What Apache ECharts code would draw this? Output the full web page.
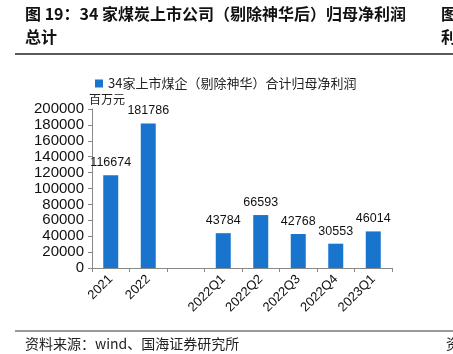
<!DOCTYPE html>
<html>
<head>
<meta charset="utf-8">
<script src="https://cdn.jsdelivr.net/npm/echarts@6/dist/echarts.min.js"></script>
<style>
  html, body { margin: 0; padding: 0; background: #fff; }
  #chart { width: 453px; height: 354px; }
</style>
</head>
<body>
<div id="chart"></div>
<script>
// 类别与数值（2022 与 2022Q1 之间留一个空位）
const categories = ["2021", "2022", "", "2022Q1", "2022Q2", "2022Q3", "2022Q4", "2023Q1"];
const profitValues = [116674, 181786, "-", 43784, 66593, 42768, 30553, 46014];
const yTicks = [0, 20000, 40000, 60000, 80000, 100000, 120000, 140000, 160000, 180000, 200000];

const seriesName = "34家上市煤企（剔除神华）合计归母净利润";
const cjk = '"Noto Sans CJK SC", sans-serif';
const num = '"Liberation Sans", Arial, sans-serif';

const myChart = echarts.init(document.getElementById("chart"));

const option = {
  animation: false,
  backgroundColor: "#fff",
  grid: { left: 92, right: 61, top: 109, bottom: 86 },
  legend: {
    left: 90,
    top: 72,
    icon: "rect",
    itemWidth: 8,
    itemHeight: 8,
    itemGap: 4,
    textStyle: { fontFamily: cjk, fontSize: 13, color: "#222" },
    data: [seriesName]
  },
  graphic: [
    // 标题
    { type: "text", left: 25, top: 6, style: { text: "图 19：34 家煤炭上市公司（剔除神华后）归母净利润", fontFamily: cjk, fontWeight: "bold", fontSize: 16, fill: "#111" } },
    { type: "text", left: 25, top: 29, style: { text: "总计", fontFamily: cjk, fontWeight: "bold", fontSize: 16, fill: "#111" } },
    { type: "text", left: 441, top: 6, style: { text: "图", fontFamily: cjk, fontWeight: "bold", fontSize: 16, fill: "#111" } },
    { type: "text", left: 441, top: 29, style: { text: "利", fontFamily: cjk, fontWeight: "bold", fontSize: 16, fill: "#111" } },
    { type: "line", shape: { x1: 15, y1: 54, x2: 453, y2: 54 }, style: { stroke: "#222", lineWidth: 1.5 } },
    // 单位
    { type: "text", left: 89, top: 93, style: { text: "百万元", fontFamily: cjk, fontSize: 12, fill: "#222" } },
    // 资料来源
    { type: "line", shape: { x1: 15, y1: 331, x2: 453, y2: 331 }, style: { stroke: "#777", lineWidth: 1.5 } },
    { type: "text", left: 25, top: 337, style: { text: "资料来源：wind、国海证券研究所", fontFamily: cjk, fontSize: 14, fill: "#222" } },
    { type: "text", left: 446, top: 337, style: { text: "资", fontFamily: cjk, fontSize: 14, fill: "#222" } }
  ],
  xAxis: {
    type: "category",
    data: categories,
    axisLine: { lineStyle: { color: "#888" } },
    axisTick: { show: true, length: 4, lineStyle: { color: "#888" } },
    axisLabel: {
      interval: 0,
      rotate: 45,
      margin: 9,
      fontFamily: num,
      fontSize: 13,
      color: "#111"
    }
  },
  yAxis: {
    type: "value",
    min: yTicks[0],
    max: yTicks[yTicks.length - 1],
    interval: 20000,
    splitLine: { show: false },
    axisLine: { show: true, lineStyle: { color: "#888" } },
    axisTick: { show: true, length: 4, lineStyle: { color: "#888" } },
    axisLabel: {
      margin: 8,
      fontFamily: num,
      fontSize: 15,
      color: "#111",
      formatter: v => String(v)
    }
  },
  series: [
    {
      name: seriesName,
      type: "bar",
      barWidth: 15,
      itemStyle: { color: "#1874CD" },
      label: {
        show: true,
        position: "top",
        distance: 6,
        fontFamily: num,
        fontSize: 12.5,
        color: "#111"
      },
      data: profitValues
    }
  ]
};

option && myChart.setOption(option);
</script>
</body>
</html>
